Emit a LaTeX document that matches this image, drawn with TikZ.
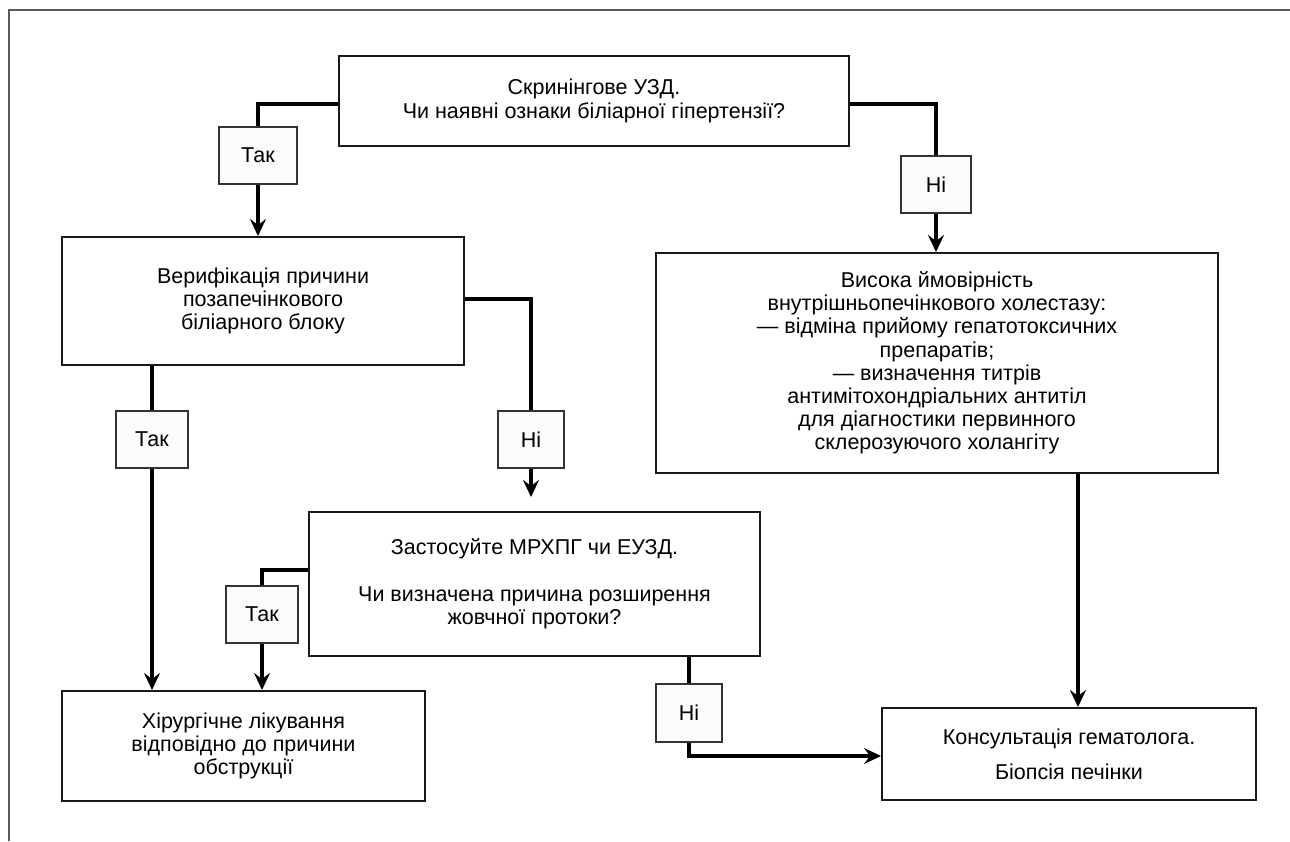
\documentclass[tikz,border=0pt]{standalone}
\usepackage{fontspec}
\setmainfont{Liberation Sans}
\usetikzlibrary{arrows.meta,calc}
\tikzset{
  mainbox/.style={draw=black!90, line width=2pt, fill=white, align=center, inner sep=0pt,
    font=\fontsize{21.5}{23.2}\selectfont},
  labbox/.style={draw=black!80, line width=1.6pt, fill=gray!3, align=center, inner sep=0pt,
    font=\fontsize{21.5}{23.2}\selectfont},
  conn/.style={line width=3.3pt, black},
  arr/.style={conn, -{Stealth[length=17pt,width=16pt,inset=6pt]}},
  framec/.style={draw=black!65, line width=2pt}
}
\begin{document}
\begin{tikzpicture}[x=1pt,y=-1pt]
\useasboundingbox (0,0) rectangle (1290,841);
\draw[framec] (9,841) -- (9,9.5) -- (1290,9.5);

% main boxes
\node[mainbox, minimum width=510pt, minimum height=90pt] (b1) at (594,101)
  {Скринінгове УЗД.\\Чи наявні ознаки біліарної гіпертензії?};
\node[mainbox, minimum width=402pt, minimum height=128pt] (b2) at (263,301)
  {Верифікація причини\\позапечінкового\\біліарного блоку};
\node[mainbox, minimum width=562pt, minimum height=220pt] (b3) at (937,363)
  {Висока ймовірність\\внутрішньопечінкового холестазу:\\— відміна прийому гепатотоксичних\\препаратів;\\— визначення титрів\\антимітохондріальних антитіл\\для діагностики первинного\\склерозуючого холангіту};
\node[mainbox, minimum width=451pt, minimum height=144pt] (b4) at (534.5,584)
  {Застосуйте МРХПГ чи ЕУЗД.\\[24pt]Чи визначена причина розширення\\жовчної протоки?};
\node[mainbox, minimum width=363pt, minimum height=110pt] (b5) at (243.5,746)
  {Хірургічне лікування\\відповідно до причини\\обструкції};
\node[mainbox, minimum width=374pt, minimum height=92pt] (b6) at (1069,754)
  {Консультація гематолога.\\[12pt]Біопсія печінки};

% label boxes
\node[labbox, minimum width=78pt, minimum height=57pt] (t1) at (258,155.5) {Так};
\node[labbox, minimum width=70pt, minimum height=57pt] (n1) at (936,184.5) {Ні};
\node[labbox, minimum width=72pt, minimum height=57pt] (t2) at (152,439.5) {Так};
\node[labbox, minimum width=66pt, minimum height=57pt] (n2) at (531,439.5) {Ні};
\node[labbox, minimum width=72pt, minimum height=57pt] (t3) at (262,614.5) {Так};
\node[labbox, minimum width=66pt, minimum height=58pt] (n3) at (689,713) {Ні};

\coordinate (n2end) at (531,497);

% connectors
\draw[conn] ($(b1.west)+(0,3)$) -| (t1.north);
\draw[arr] (t1.south) -- (t1.south |- b2.north);
\draw[conn] ($(b1.east)+(0,3)$) -| (n1.north);
\draw[arr] (n1.south) -- (n1.south |- b3.north);

\draw[conn] (t2.north |- b2.south) -- (t2.north);
\draw[arr] (t2.south) -- (t2.south |- b5.north);
\draw[conn] ($(b2.east)+(0,-2)$) -| (n2.north);
\draw[arr] (n2.south) -- (n2end);

\draw[conn] ($(b4.west)+(0,-14)$) -| (t3.north);
\draw[arr] (t3.south) -- (t3.south |- b5.north);
\draw[conn] (n3.north |- b4.south) -- (n3.north);
\draw[arr] (n3.south) |- ($(b6.west)+(0,2)$);

\draw[arr] ($(b3.south)+(141,0)$) -- ($(b6.north)+(9,0)$);
\end{tikzpicture}
\end{document}
